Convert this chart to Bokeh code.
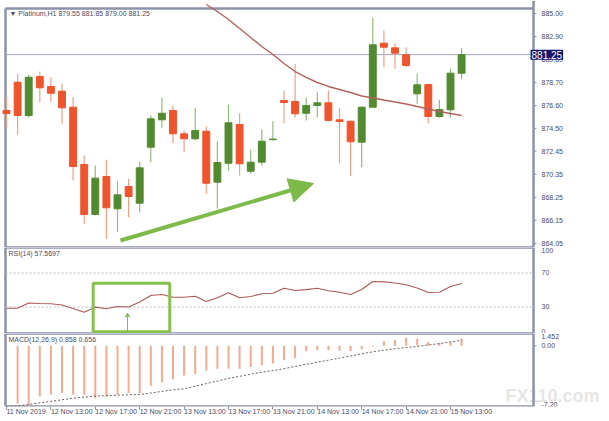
from bokeh.plotting import figure
from bokeh.layouts import column
from bokeh.models import (ColumnDataSource, FixedTicker, Label, BoxAnnotation,
                          Arrow, NormalHead, VeeHead, Range1d)
from bokeh.core.properties import value
from bokeh.embed import file_html
from bokeh.resources import INLINE

# ---------------- data ----------------
opens  = [876.16, 878.74, 875.70, 879.26, 878.35, 877.92, 876.46, 871.24, 866.68, 870.14,
          867.20, 869.23, 867.71, 872.81, 875.31, 876.16, 874.03, 873.58, 874.27, 869.62,
          871.35, 874.88, 870.62, 871.45, 873.50, 877.07, 876.98, 875.91, 876.61, 876.86,
          875.31, 875.18, 873.27, 876.46, 882.29, 881.87, 881.24, 877.68, 878.53, 875.61,
          876.22, 879.55]
highs  = [877.34, 879.50, 879.44, 879.71, 879.19, 878.59, 877.37, 872.06, 871.14, 871.66,
          869.71, 869.93, 871.51, 875.70, 877.32, 876.61, 874.33, 876.40, 874.70, 873.36,
          876.68, 875.91, 872.58, 874.40, 875.18, 877.98, 880.40, 877.32, 877.83, 877.98,
          876.40, 875.25, 876.52, 884.61, 883.45, 882.29, 881.93, 879.50, 878.59, 877.13,
          879.96, 881.85]
lows   = [874.61, 873.97, 875.55, 876.91, 876.91, 874.95, 869.78, 865.83, 866.59, 864.46,
          865.06, 866.43, 866.89, 871.44, 874.58, 873.18, 872.36, 873.42, 868.56, 867.20,
          870.69, 870.23, 870.39, 871.14, 873.42, 875.00, 875.52, 875.25, 875.55, 875.18,
          871.39, 870.19, 870.99, 876.40, 880.10, 879.96, 880.10, 876.77, 875.00, 875.49,
          875.49, 879.00]
closes = [875.88, 875.70, 879.19, 878.23, 877.73, 876.40, 871.05, 866.68, 869.99, 867.29,
          868.47, 868.32, 870.93, 875.40, 875.91, 874.03, 873.58, 874.33, 869.53, 871.42,
          875.04, 871.30, 871.45, 873.36, 873.55, 876.89, 875.86, 876.61, 876.86, 875.25,
          875.15, 873.30, 876.46, 882.15, 881.93, 881.38, 880.26, 878.50, 875.61, 876.25,
          879.56, 881.25]

ma_start = 18
ma_vals = [885.82, 885.18, 884.45, 883.63, 882.81, 881.99, 881.26, 880.44, 879.71,
           879.17, 878.71, 878.35, 878.07, 877.80, 877.48, 877.30, 877.11, 876.93, 876.75,
           876.52, 876.29, 876.07, 875.88, 875.70]

rsi = [28.6, 28.6, 34.7, 34.1, 33.8, 32.4, 28.2, 23.9, 29.8, 27.9,
       30.6, 30.0, 35.9, 43.5, 44.7, 41.5, 41.5, 42.7, 36.5, 40.8,
       46.7, 40.8, 42.4, 45.5, 46.2, 52.0, 49.4, 50.4, 52.1, 49.1,
       47.4, 44.7, 50.6, 60.0, 59.6, 58.2, 56.1, 52.4, 47.1, 47.4,
       54.1, 57.5697]

macd_start = 1
macd_main = [-6.84, -7.05, -6.01, -5.81, -5.60, -5.81, -5.81, -6.22, -6.01,
             -5.81, -5.60, -5.60, -4.77, -4.36, -3.96, -3.54, -3.34, -2.92, -2.72,
             -2.72, -2.72, -2.51, -2.30, -2.10, -1.68, -1.48, -0.66, -0.53, -0.53,
             -0.59, -0.66, -0.41, -0.10, 0.52, 0.70, 0.95, 0.83, 0.46, 0.33,
             0.46, 0.858]
macd_signal = [-7.20, -7.14, -6.96, -6.77, -6.59, -6.40, -6.22, -6.09, -5.97, -5.91,
               -5.85, -5.81, -5.78, -5.60, -5.41, -5.23, -5.10, -4.80, -4.49, -4.18,
               -3.87, -3.62, -3.37, -3.13, -2.94, -2.72, -2.45, -2.20, -1.95, -1.71,
               -1.46, -1.21, -0.96, -0.72, -0.53, -0.35, -0.22, -0.10, 0.10, 0.25,
               0.45, 0.656]

price_ticks = [885.00, 882.90, 880.80, 878.70, 876.60, 874.50, 872.45, 870.35, 868.25, 866.15, 864.05]
rsi_levels = [30, 70]
rsi_min, rsi_max = -1.2, 100
macd_min, macd_max = -7.2, 1.452
price_min, price_max = 863.67, 886.185
price_top_border = 885.456
time_tick_idx = [0, 4, 8, 12, 16, 20, 24, 28, 32, 36, 40]
time_labels = ["11 Nov 2019", "12 Nov 13:00", "12 Nov 17:00", "12 Nov 21:00", "13 Nov 13:00",
               "13 Nov 17:00", "13 Nov 21:00", "14 Nov 13:00", "14 Nov 17:00", "14 Nov 21:00",
               "15 Nov 13:00"]

# ---------------- styling ----------------
FONT = "Liberation Sans"
TXT = "#4a4a66"
BORDER = "#8c92aa"
RED = "#ef542c"
GREEN = "#528a30"
ARROW_GREEN = "#7dba4a"
W = 609
PX_PER_BAR = 11.1
X0 = -6 / PX_PER_BAR            # canvas left edge, in bar units
XL = -0.09                      # left panel border
AX = 47.48                      # price axis line
XR = Range1d(X0, X0 + W / PX_PER_BAR)
TICK = 3.0 / PX_PER_BAR


def make_fig(height, ymin, ymax, ytop, with_xaxis=False):
    p = figure(width=W, height=height, x_range=XR, y_range=Range1d(ymin, ymax),
               x_axis_location="below" if with_xaxis else None, y_axis_location=None,
               toolbar_location=None, output_backend="svg", tools="")
    p.outline_line_color = None
    p.xgrid.visible = False
    p.ygrid.visible = False
    p.min_border_left = 0
    p.min_border_right = 0
    p.min_border_top = 0
    p.min_border_bottom = 0
    p.background_fill_color = "white"
    p.border_fill_color = "white"
    # panel frame (left, top, bottom) and the price-axis line on the right
    p.segment(x0=[XL, XL, XL, AX], y0=[ymin, ytop, ymin, ymin],
              x1=[XL, AX, AX, AX], y1=[ytop, ytop, ymin, ymax],
              line_color=BORDER, line_width=2.5)
    return p


def axis_labels(p, ys, texts, baseline="middle", ticks=True):
    k = len(ys)
    if ticks:
        p.segment(x0=[AX] * k, y0=ys, x1=[AX + TICK] * k, y1=ys,
                  line_color=BORDER, line_width=1)
    p.text(x=[AX] * k, y=ys, text=texts, x_offset=8, text_align="left",
           text_baseline=baseline, text_font=value(FONT), text_font_size="7px",
           text_color=TXT)


def text_label(p, x, y, text, size="7px", color=TXT, x_off=0, **kw):
    p.add_layout(Label(x=x, y=y, text=text, text_align="left", text_baseline="top",
                       text_font=FONT, text_font_size=size, text_color=color,
                       x_offset=x_off, **kw))


n = len(opens)
idx = list(range(n))

# ---------------- main price panel ----------------
p1 = make_fig(247, price_min, price_max, price_top_border)
axis_labels(p1, price_ticks, ["%.2f" % t for t in price_ticks])

up = [c >= o for o, c in zip(opens, closes)]
src = ColumnDataSource(dict(
    x=idx, h=highs, l=lows,
    top=[max(o, c) for o, c in zip(opens, closes)],
    bot=[min(o, c) for o, c in zip(opens, closes)],
    color=[GREEN if u else RED for u in up],
    wick=["#93bb7c" if u else "#f2a086" for u in up],
))
p1.segment(x0=[XL], y0=[closes[-1]], x1=[AX], y1=[closes[-1]],
           line_color="#a3aabd", line_width=1)
p1.segment("x", "h", "x", "l", source=src, line_color="wick", line_width=1.2)
p1.vbar(x="x", top="top", bottom="bot", width=0.62, fill_color="color",
        line_color="color", line_width=1, source=src)
p1.line(list(range(ma_start, ma_start + len(ma_vals))), ma_vals,
        line_color="#b5605a", line_width=1.4)

p1.add_layout(Arrow(x_start=10.27, y_start=864.31, x_end=27.66, y_end=869.50,
                    line_color=ARROW_GREEN, line_width=4,
                    end=NormalHead(size=24, fill_color=ARROW_GREEN, line_color=ARROW_GREEN)))

text_label(p1, XL, 885.36, "\u25bc Platinum,H1  879.55 881.85 879.00 881.25", x_off=4)
p1.add_layout(Label(x=AX, y=closes[-1], text="%.2f" % closes[-1], x_offset=-3,
                    text_align="left", text_baseline="middle", text_font=FONT,
                    text_font_size="10px", text_color="white",
                    background_fill_color="#16166a", padding=1))

# ---------------- RSI panel ----------------
p2 = make_fig(86, rsi_min, rsi_max, rsi_max)
k = len(rsi_levels)
p2.segment(x0=[XL] * k, y0=rsi_levels, x1=[AX] * k, y1=rsi_levels,
           line_color="#b8b8c0", line_width=1, line_dash="2 2")
axis_labels(p2, rsi_levels, [str(v) for v in rsi_levels], ticks=False)
axis_labels(p2, [rsi_max], ["100"], baseline="top", ticks=False)
axis_labels(p2, [rsi_min], ["0"], baseline="bottom", ticks=False)
p2.line(idx, rsi, line_color="#a85a58", line_width=1.1)
p2.add_layout(BoxAnnotation(left=7.81, right=14.71, bottom=0.8, top=58,
                            fill_alpha=0, line_alpha=1, line_color="#86c04e", line_width=3))
p2.add_layout(Arrow(x_start=10.9, y_start=rsi_min, x_end=10.9, y_end=22.7,
                    line_color="#7dba4a", line_width=1,
                    end=VeeHead(size=4, fill_color="#7dba4a", line_color="#7dba4a")))
text_label(p2, XL, 97.5, "RSI(14) 57.5697", x_off=3)

# ---------------- MACD panel ----------------
p3 = make_fig(88, macd_min, macd_max, macd_max, with_xaxis=True)
p3.add_layout(Label(x=AX, y=macd_min + 1.3, x_offset=-28, text="FX110.com", text_align="left",
                    text_baseline="middle", text_font=FONT, text_font_size="18px",
                    text_font_style="bold", text_color="#e6e6e6", level="underlay"))
m_idx = list(range(macd_start, macd_start + len(macd_main)))
p3.segment(m_idx, [0] * len(m_idx), m_idx, macd_main, line_color="#f3ab8e", line_width=2)
p3.line(idx, macd_signal, line_color="#6e5c5c", line_width=1, line_dash="2 2")
axis_labels(p3, [macd_max], ["%.3f" % macd_max], baseline="top", ticks=False)
axis_labels(p3, [0], ["0.00"])
axis_labels(p3, [macd_min], ["%.2f" % macd_min], baseline="bottom", ticks=False)
text_label(p3, XL, 1.1, "MACD(12,26,9) 0.858 0.656", x_off=3)

xa = p3.xaxis[0]
xa.ticker = FixedTicker(ticks=time_tick_idx)
xa.major_label_overrides = {t: lab for t, lab in zip(time_tick_idx, time_labels)}
xa.axis_label = None
xa.axis_label_standoff = 0
xa.axis_line_color = None
xa.major_tick_line_color = BORDER
xa.major_tick_out = 3
xa.major_tick_in = 0
xa.minor_tick_line_color = None
xa.major_label_text_font = FONT
xa.major_label_text_font_size = "7px"
xa.major_label_text_color = TXT
xa.major_label_standoff = 2
xa.major_label_orientation = -0.0001

layout = column(p1, p2, p3, spacing=0)
open("out.html", "w").write(file_html(layout, INLINE))
